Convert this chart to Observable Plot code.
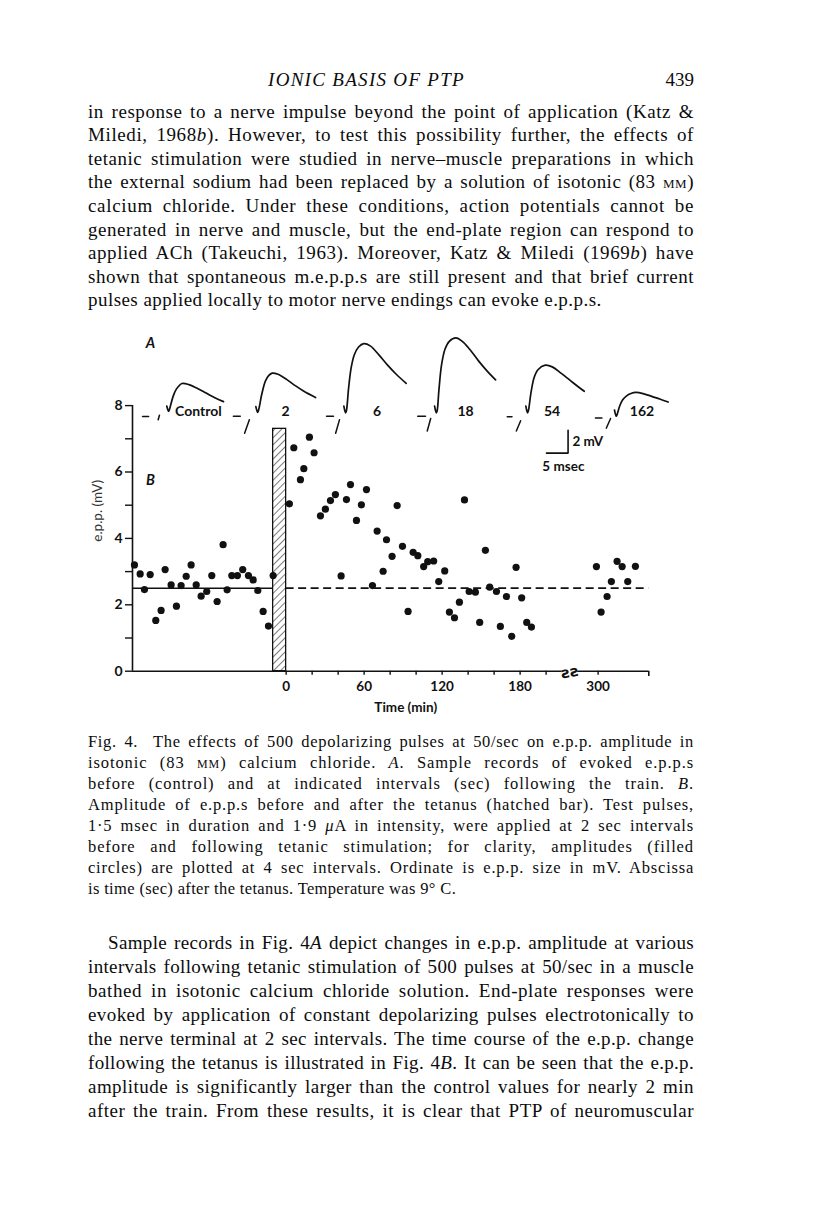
<!DOCTYPE html>
<html>
<head>
<meta charset="utf-8">
<script src="https://cdn.jsdelivr.net/npm/d3@7"></script>
<script src="https://cdn.jsdelivr.net/npm/@observablehq/plot@0.6"></script>
<style>
  html, body { margin: 0; padding: 0; background: #fff; }
  #page { position: relative; width: 816px; height: 1211px; overflow: hidden; background: #fff;
          font-family: "Liberation Serif", "DejaVu Serif", serif; color: #0c0c0c; }
  .ln { position: absolute; left: 88px; width: 606px; text-align: left; }
  .ln.just { text-align: justify; text-align-last: justify; }
  .sc { font-variant: small-caps; }
  #chart { position: absolute; left: 0; top: 300px; }
</style>
</head>
<body>
<div id="page">
  <div id="chart"></div>
</div>
<script>
// ---------------- DATA ----------------
// Panel B: e.p.p. amplitude (mV) against time (sec) relative to the end of the tetanus
const eppTime = [
  -116.7, -112.3, -109, -104.6, -100.3, -96.2, -93.1, -88.5, -84.4, -80.8, -76.9, -73.1, -69.2, -65.4,
  -61.1, -57.2, -53.1, -48.5, -45.4, -41.8, -37.5, -33.4, -29, -25.4, -21.8, -17.7, -13.6, -10,
  2.5, 5.9, 11, 13.6, 17.9, 21.5, 26.4, 30.2, 34.1, 37.9, 42.3, 46.4, 49.5, 54.1, 57.9, 61.8,
  66.4, 70, 74.6, 77.2, 81.5, 85.4, 89.5, 93.8, 97.7, 101.3, 105.8, 108.9, 113.5, 117.4, 122,
  125.6, 129.5, 133.3, 137.2, 140.8, 145.6, 148.9, 153.3, 156.6, 161.8, 164.8, 169.5, 173.5,
  176.9, 181.2, 185.1, 188.7,
  298.7, 302.3, 306.9, 310.2, 314.6, 318.5, 322.8, 328.7
];
const eppAmp = [
  3.20, 2.93, 2.46, 2.91, 1.53, 1.83, 3.06, 2.60, 1.96, 2.58, 2.86, 3.20, 2.60, 2.26,
  2.40, 2.88, 2.10, 3.81, 2.45, 2.88, 2.88, 3.06, 2.88, 2.75, 2.43, 1.80, 1.36, 2.88,
  5.04, 6.73, 5.77, 6.10, 7.05, 6.58, 4.68, 4.88, 5.14, 5.32, 2.87, 5.17, 5.62, 4.54, 5.01, 5.47,
  2.58, 4.22, 3.01, 3.96, 3.46, 4.99, 3.76, 1.80, 3.58, 3.48, 3.15, 3.30, 3.32, 2.70, 3.02,
  1.78, 1.61, 2.08, 5.16, 2.40, 2.38, 1.47, 3.64, 2.53, 2.40, 1.35, 2.25, 1.05,
  3.13, 2.21, 1.47, 1.33,
  3.15, 1.78, 2.25, 2.70, 3.31, 3.15, 2.70, 3.16
];
const controlMean = 2.5;          // mV, control level (solid before, dashed after)
const tetanusStart = -10;         // sec (500 pulses at 50/sec)
const tetanusEnd = 0;
const tetanusBarTop = 7.3;        // height of hatched bar
const breakGap = 60;              // seconds hidden by the axis break
const breakAfter = 250;           // times beyond this are shifted left by breakGap

const yTicks = [0, 1, 2, 3, 4, 5, 6, 7, 8];
const yTickLabels = ["0", "", "2", "", "4", "", "6", "", "8"];
const xTicks = [0, 20, 40, 60, 80, 100, 120, 140, 160, 180, 200, 300];
const xLabelTimes = [0, 60, 120, 180, 300];
const xLabels = ["0", "60", "120", "180", "300"];

// Panel A: sample records (ms after foot, mV above baseline)
const recordLabels = ["Control", "2", "6", "18", "54", "162"];
const recordMs = [
  [-0.6, -0.2, 0, 0.8, 1.6, 2.9, 4.5, 6.5, 8.5, 10.5, 12.5],
  [-0.6, -0.2, 0, 0.8, 1.6, 2.4, 3.2, 4.5, 6.5, 8.5, 10.5, 13.2],
  [-0.6, -0.2, 0, 0.5, 1.1, 1.8, 2.8, 4.0, 5.5, 7.5, 9.5, 11.5, 13.8],
  [-0.6, -0.2, 0, 0.4, 1.0, 1.8, 2.8, 4.3, 5.8, 7.5, 9.5, 11.5, 13.5],
  [-0.6, -0.2, 0, 0.6, 1.3, 2.2, 3.9, 5.5, 7.5, 9.5, 11.5, 12.9],
  [-0.6, -0.2, 0, 0.6, 1.3, 2.2, 3.2, 4.3, 6, 8, 10, 11.8]
];
const recordMv = [
  [0.3, -0.15, 0, 1.1, 1.8, 2.3, 2.2, 1.85, 1.45, 1.05, 0.7],
  [0.35, -0.15, 0, 1.5, 2.6, 3.1, 3.3, 3.2, 2.75, 2.2, 1.7, 1.15],
  [0.4, -0.2, 0, 2.0, 3.8, 4.9, 5.6, 5.9, 5.7, 4.9, 4.0, 3.2, 2.4],
  [0.4, -0.2, 0, 1.8, 4.0, 5.4, 6.1, 6.4, 6.1, 5.4, 4.4, 3.5, 2.7],
  [0.4, -0.2, 0, 1.6, 2.9, 3.6, 4.0, 3.85, 3.3, 2.7, 2.1, 1.7],
  [0.4, -0.15, 0, 0.75, 1.3, 1.65, 1.85, 1.95, 1.85, 1.6, 1.35, 1.1]
];
// pre-stimulus dash: [startMs, endMs, mV]; stimulus artefact: [ms0, mV0, ms1, mV1]
const artifactDash = [[-6.2, -4.8, -0.6], [-5.8, -4.2, -0.5], [-4.6, -3.0, -0.5], [-4.5, -2.7, -0.5], [-4.9, -3.8, -0.55], [-5.0, -3.5, -0.3]];
const artifactStim = [[-2.6, -0.9, -2.3, -0.5], [-3.2, -2.0, -2.1, -0.8], [-2.5, -2.0, -1.6, -0.8], [-2.3, -1.8, -1.5, -0.7], [-2.8, -1.8, -1.8, -0.9], [-2.5, -1.2, -1.5, -0.35]];
const scaleBarMv = 2;
const scaleBarMs = 5;

// ---------------- LAYOUT (positions in chart units) ----------------
const xMin = -118.2, xMax = 279;
const msToX = 3.33, mvToY = 0.342;
const recordFootX = [-89.8, -21.3, 46.4, 116.2, 186.4, 254.6];
const recordFootY = [7.88, 7.85, 7.85, 7.85, 7.85, 7.73];
const recordLabelX = [-67.5, -0.5, 70, 138, 204.6, 273.8];
const recordLabelY = 7.82;
const scaleBarX = 216.9, scaleBarY = 6.57;

// ---------------- BUILD ----------------
const shownX = t => (t > breakAfter ? t - breakGap : t);
const points = eppTime.map((t, i) => ({ x: shownX(t), y: eppAmp[i] }));

const traceData = [];
recordMs.forEach((ms, r) => ms.forEach((m, j) => traceData.push({
  rec: r, x: recordFootX[r] + m * msToX, y: recordFootY[r] + recordMv[r][j] * mvToY })));
const artData = [];
artifactDash.forEach((d, r) => {
  artData.push({ seg: "d" + r, x: recordFootX[r] + d[0] * msToX, y: recordFootY[r] + d[2] * mvToY });
  artData.push({ seg: "d" + r, x: recordFootX[r] + d[1] * msToX, y: recordFootY[r] + d[2] * mvToY });
});
artifactStim.forEach((s, r) => {
  artData.push({ seg: "s" + r, x: recordFootX[r] + s[0] * msToX, y: recordFootY[r] + s[1] * mvToY });
  artData.push({ seg: "s" + r, x: recordFootX[r] + s[2] * msToX, y: recordFootY[r] + s[3] * mvToY });
});
const scaleBar = [
  { x: scaleBarX - scaleBarMs * msToX, y: scaleBarY },
  { x: scaleBarX, y: scaleBarY },
  { x: scaleBarX, y: scaleBarY + scaleBarMv * mvToY }
];

const fig = "Lato, 'DejaVu Sans', sans-serif";
const shownLabelTimes = xLabelTimes.map(shownX);
const chart = Plot.plot({
  width: 816,
  height: 430,
  marginLeft: 132,
  marginRight: 167.7,
  marginTop: 22.1,
  marginBottom: 59.3,
  x: { type: "linear", domain: [xMin, xMax], axis: null },
  y: { domain: [0, 10.5], axis: null },
  style: { fontFamily: fig, fontWeight: 700, fontSize: "13px", color: "#111", background: "transparent", overflow: "visible" },
  marks: [
    // hatched tetanus bar
    Plot.rect([{ x1: tetanusStart, x2: tetanusEnd, y1: 0, y2: tetanusBarTop }],
      { x1: "x1", x2: "x2", y1: "y1", y2: "y2", fill: "url(#hatch)", stroke: "#111", strokeWidth: 1.3 }),
    // control level
    Plot.ruleY([controlMean], { x1: xMin, x2: tetanusStart, stroke: "#111", strokeWidth: 1.6 }),
    Plot.ruleY([controlMean], { x1: tetanusEnd, x2: xMax, stroke: "#111", strokeWidth: 1.8, strokeDasharray: "8,4.5" }),
    // axes
    Plot.ruleX([xMin], { y1: 0, y2: 8, stroke: "#111", strokeWidth: 1.6 }),
    Plot.ruleY([0], { x1: xMin, x2: 212.3, stroke: "#111", strokeWidth: 1.6 }),
    Plot.ruleY([0], { x1: 224.3, x2: xMax, stroke: "#111", strokeWidth: 1.6 }),
    Plot.ruleX([xMax], { y1: 0, y2: -0.16, stroke: "#111", strokeWidth: 1.6 }),
    Plot.text(["ƨƨ"], { x: 218.3, y: 0, fontSize: 15, fontFamily: "DejaVu Sans", fontWeight: 700, rotate: -10, dy: 1 }),
    Plot.axisY({ ticks: yTicks, tickSize: 7, tickPadding: 3, tickFormat: d => yTickLabels[yTicks.indexOf(d)], label: null, fontSize: 14, strokeWidth: 1.4 }),
    Plot.axisX({ ticks: xTicks.map(shownX), tickSize: 4, tickFormat: () => "", label: null, strokeWidth: 1.4 }),
    Plot.axisX({ ticks: shownLabelTimes, tickSize: 0, tickPadding: 10, tickFormat: d => xLabels[shownLabelTimes.indexOf(d)], label: null, fontSize: 13.5 }),
    Plot.text(["Time (min)"], { x: 92, frameAnchor: "bottom", dy: 41, fontSize: 13.5 }),
    Plot.text(["e.p.p. (mV)"], { frameAnchor: "left", y: 3.9, dx: -35, rotate: -90, fontSize: 13.5, fontWeight: 400, fill: "#333" }),
    Plot.text(["A"], { x: -104.4, y: 9.88, fontSize: 14.5, fontStyle: "italic" }),
    Plot.text(["B"], { x: -104.4, y: 5.74, fontSize: 14.5, fontStyle: "italic" }),
    // panel B points
    Plot.dot(points, { x: "x", y: "y", r: 3.6, fill: "#111", stroke: "none" }),
    // panel A records
    Plot.line(traceData, { x: "x", y: "y", z: "rec", curve: "catmull-rom", stroke: "#111", strokeWidth: 1.7 }),
    Plot.line(artData, { x: "x", y: "y", z: "seg", stroke: "#111", strokeWidth: 1.5 }),
    Plot.text(recordLabels, { x: (d, i) => recordLabelX[i], y: recordLabelY, fontSize: 14 }),
    Plot.line(scaleBar, { x: "x", y: "y", stroke: "#111", strokeWidth: 1.6 }),
    Plot.text(["2 mV"], { x: scaleBarX + 1.0, y: scaleBarY + 0.35, textAnchor: "start", fontSize: 13.5, dx: 3 }),
    Plot.text(["5 msec"], { x: 213.3, y: 6.17, fontSize: 13.5 })
  ]
});
// hatch pattern for the tetanus bar
const ns = "http://www.w3.org/2000/svg";
const defs = document.createElementNS(ns, "defs");
defs.innerHTML = '<pattern id="hatch" patternUnits="userSpaceOnUse" width="5" height="5" patternTransform="rotate(45)">' +
  '<rect width="5" height="5" fill="#fff"/><line x1="0" y1="0" x2="0" y2="5" stroke="#111" stroke-width="1.1"/></pattern>';
chart.insertBefore(defs, chart.firstChild);
document.getElementById("chart").appendChild(chart);

// ---------------- PAGE TEXT ----------------
const page = document.getElementById("page");
function addLine(html, top, size, lh, opts = {}) {
  const d = document.createElement("div");
  d.className = "ln";
  d.style.top = (top - lh / 2) + "px";
  d.style.fontSize = size + "px";
  d.style.lineHeight = lh + "px";
  d.style.height = lh + "px";
  d.style.whiteSpace = "nowrap";
  const width = 606 - (opts.indent || 0);
  if (opts.indent) { d.style.left = (88 + opts.indent) + "px"; }
  d.style.width = width + "px";
  d.innerHTML = "<span>" + html + "</span>";
  page.appendChild(d);
  // widen letters a little so that justified word gaps stay close to the original typesetting
  const span = d.firstChild;
  const natural = span.getBoundingClientRect().width;
  const nChars = span.textContent.length;
  let ls = opts.last ? (opts.lastSpacing || 0.3) : Math.max(0, Math.min(0.9, (width - natural - 4) * 0.6 / nChars));
  d.style.letterSpacing = ls.toFixed(2) + "px";
  d.style.whiteSpace = "normal";
  if (!opts.last) d.classList.add("just");
  return ls;
}
const head = document.createElement("div");
head.style.cssText = "position:absolute;left:0;top:67px;width:816px;height:26px;font-size:19px;line-height:26px;";
head.innerHTML = '<span style="position:absolute;left:268px;font-style:italic;letter-spacing:1.3px">IONIC BASIS OF PTP</span>' +
  '<span style="position:absolute;right:122px;">439</span>';
page.appendChild(head);

const topLines = [
  "in response to a nerve impulse beyond the point of application (Katz &amp;",
  "Miledi, 1968<i>b</i>). However, to test this possibility further, the effects of",
  "tetanic stimulation were studied in nerve–muscle preparations in which",
  "the external sodium had been replaced by a solution of isotonic (83 <span class='sc'>mm</span>)",
  "calcium chloride. Under these conditions, action potentials cannot be",
  "generated in nerve and muscle, but the end-plate region can respond to",
  "applied ACh (Takeuchi, 1963). Moreover, Katz &amp; Miledi (1969<i>b</i>) have",
  "shown that spontaneous m.e.p.p.s are still present and that brief current",
  "pulses applied locally to motor nerve endings can evoke e.p.p.s."
];
topLines.forEach((t, i) => addLine(t, 111 + i * 23.6, 19, 23, { last: i === topLines.length - 1, lastSpacing: 0.45 }));

const capLines = [
  "Fig. 4.&nbsp; The effects of 500 depolarizing pulses at 50/sec on e.p.p. amplitude in",
  "isotonic (83 <span class='sc'>mm</span>) calcium chloride. <i>A</i>. Sample records of evoked e.p.p.s",
  "before (control) and at indicated intervals (sec) following the train. <i>B</i>.",
  "Amplitude of e.p.p.s before and after the tetanus (hatched bar). Test pulses,",
  "1·5 msec in duration and 1·9 <i>μ</i>A in intensity, were applied at 2 sec intervals",
  "before and following tetanic stimulation; for clarity, amplitudes (filled",
  "circles) are plotted at 4 sec intervals. Ordinate is e.p.p. size in mV. Abscissa",
  "is time (sec) after the tetanus. Temperature was 9° C."
];
capLines.forEach((t, i) => addLine(t, 742 + i * 21, 16.5, 20, { last: i === capLines.length - 1, lastSpacing: 0.35 }));

const botLines = [
  "Sample records in Fig. 4<i>A</i> depict changes in e.p.p. amplitude at various",
  "intervals following tetanic stimulation of 500 pulses at 50/sec in a muscle",
  "bathed in isotonic calcium chloride solution. End-plate responses were",
  "evoked by application of constant depolarizing pulses electrotonically to",
  "the nerve terminal at 2 sec intervals. The time course of the e.p.p. change",
  "following the tetanus is illustrated in Fig. 4<i>B</i>. It can be seen that the e.p.p.",
  "amplitude is significantly larger than the control values for nearly 2 min",
  "after the train. From these results, it is clear that PTP of neuromuscular"
];
botLines.forEach((t, i) => addLine(t, 942 + i * 24, 19, 23, { indent: i === 0 ? 20 : 0 }));
</script>
</body>
</html>
